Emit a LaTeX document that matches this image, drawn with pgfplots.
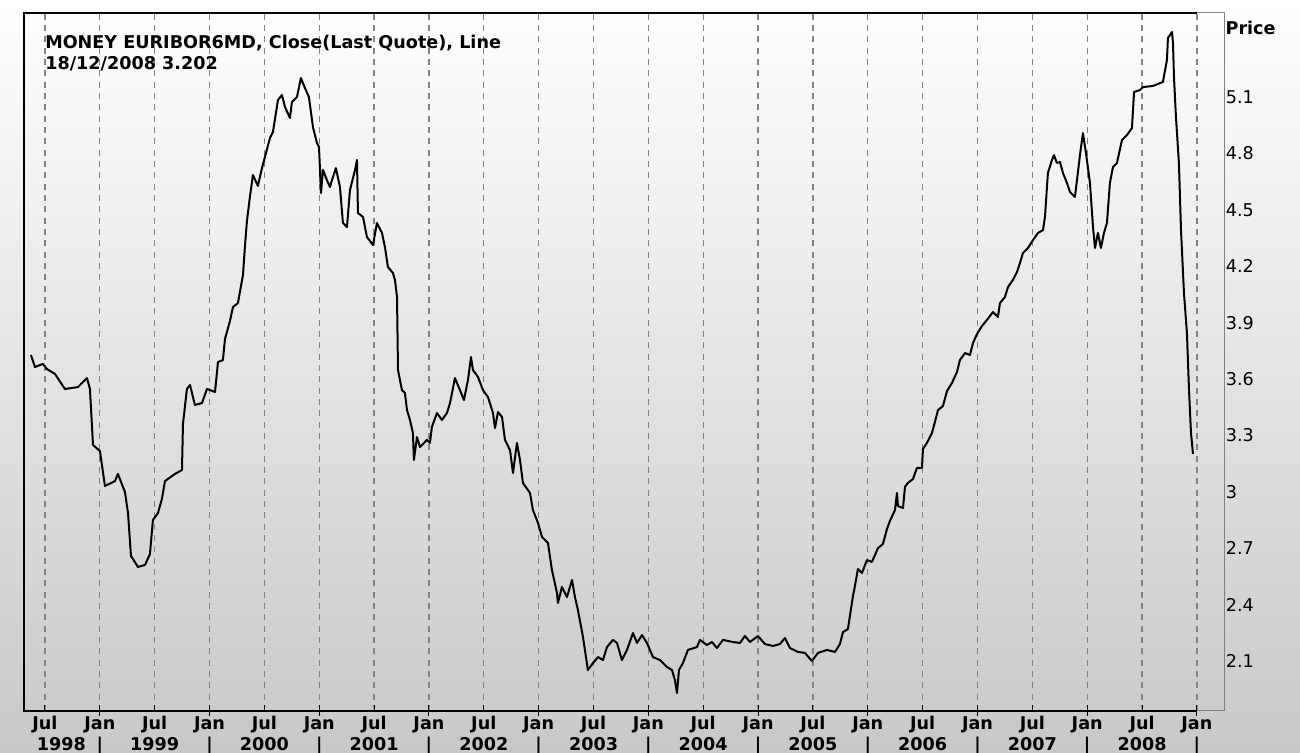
\documentclass[border=0pt]{standalone}
\usepackage{pgfplots}
\pgfplotsset{compat=1.18}
\usepackage{fontspec}
\setmainfont{DejaVu Sans}
\definecolor{bgbot}{RGB}{200,200,200}
\definecolor{gridc}{RGB}{130,130,130}
\definecolor{framegray}{RGB}{128,128,128}
\newcommand{\lblfont}{\fontsize{13.2}{15.75}\selectfont}
\pgfplotstableread{
x y
1998.372 3.728
1998.409 3.664
1998.482 3.680
1998.518 3.653
1998.591 3.627
1998.682 3.547
1998.801 3.557
1998.883 3.605
1998.910 3.547
1998.938 3.249
1999.001 3.217
1999.047 3.031
1999.138 3.057
1999.165 3.095
1999.229 2.999
1999.257 2.887
1999.284 2.659
1999.348 2.600
1999.412 2.611
1999.457 2.669
1999.484 2.850
1999.530 2.887
1999.566 2.962
1999.594 3.057
1999.685 3.095
1999.749 3.116
1999.758 3.361
1999.794 3.547
1999.822 3.568
1999.867 3.462
1999.931 3.472
1999.977 3.547
2000.050 3.531
2000.077 3.690
2000.122 3.701
2000.141 3.813
2000.186 3.908
2000.214 3.983
2000.259 4.004
2000.277 4.063
2000.305 4.153
2000.323 4.307
2000.341 4.440
2000.369 4.573
2000.396 4.685
2000.441 4.627
2000.478 4.722
2000.505 4.781
2000.551 4.882
2000.578 4.914
2000.624 5.084
2000.660 5.111
2000.688 5.047
2000.733 4.988
2000.751 5.073
2000.797 5.100
2000.833 5.201
2000.870 5.148
2000.906 5.100
2000.943 4.940
2000.979 4.855
2000.998 4.834
2001.016 4.589
2001.034 4.712
2001.070 4.658
2001.098 4.621
2001.116 4.658
2001.152 4.722
2001.189 4.621
2001.216 4.430
2001.253 4.408
2001.280 4.605
2001.326 4.712
2001.344 4.765
2001.353 4.483
2001.399 4.462
2001.435 4.355
2001.490 4.313
2001.526 4.430
2001.572 4.377
2001.599 4.302
2001.626 4.196
2001.672 4.164
2001.690 4.127
2001.709 4.036
2001.718 3.648
2001.754 3.541
2001.781 3.526
2001.800 3.435
2001.827 3.382
2001.854 3.313
2001.863 3.169
2001.891 3.291
2001.918 3.238
2001.982 3.276
2002.009 3.260
2002.027 3.345
2002.073 3.419
2002.119 3.382
2002.164 3.419
2002.192 3.472
2002.237 3.605
2002.283 3.541
2002.319 3.488
2002.356 3.595
2002.383 3.717
2002.401 3.648
2002.447 3.611
2002.492 3.541
2002.538 3.504
2002.584 3.419
2002.602 3.339
2002.629 3.424
2002.666 3.398
2002.693 3.276
2002.739 3.222
2002.766 3.100
2002.802 3.260
2002.830 3.169
2002.857 3.047
2002.921 2.994
2002.948 2.903
2002.994 2.834
2003.030 2.760
2003.085 2.728
2003.121 2.584
2003.167 2.462
2003.176 2.409
2003.212 2.494
2003.258 2.440
2003.304 2.531
2003.331 2.440
2003.358 2.371
2003.404 2.228
2003.449 2.052
2003.495 2.089
2003.541 2.121
2003.586 2.105
2003.623 2.174
2003.677 2.212
2003.714 2.196
2003.759 2.105
2003.805 2.159
2003.860 2.249
2003.896 2.196
2003.942 2.238
2003.987 2.196
2004.042 2.121
2004.106 2.105
2004.170 2.068
2004.215 2.052
2004.242 1.999
2004.261 1.930
2004.279 2.052
2004.315 2.089
2004.361 2.159
2004.443 2.174
2004.470 2.212
2004.534 2.185
2004.580 2.201
2004.625 2.169
2004.680 2.212
2004.771 2.201
2004.835 2.196
2004.880 2.233
2004.926 2.201
2004.999 2.233
2005.063 2.190
2005.136 2.180
2005.199 2.190
2005.245 2.222
2005.291 2.169
2005.364 2.148
2005.427 2.143
2005.491 2.100
2005.546 2.143
2005.628 2.159
2005.701 2.148
2005.746 2.190
2005.774 2.254
2005.819 2.270
2005.847 2.377
2005.865 2.446
2005.883 2.499
2005.910 2.589
2005.947 2.568
2005.992 2.637
2006.038 2.627
2006.093 2.701
2006.138 2.722
2006.175 2.802
2006.202 2.845
2006.248 2.903
2006.266 2.994
2006.275 2.924
2006.321 2.914
2006.339 3.026
2006.366 3.047
2006.412 3.068
2006.448 3.127
2006.494 3.127
2006.503 3.228
2006.539 3.260
2006.585 3.313
2006.612 3.371
2006.640 3.435
2006.685 3.456
2006.722 3.536
2006.767 3.579
2006.813 3.637
2006.840 3.701
2006.886 3.738
2006.931 3.728
2006.959 3.791
2006.995 3.839
2007.041 3.882
2007.086 3.914
2007.141 3.956
2007.186 3.930
2007.205 4.004
2007.250 4.036
2007.278 4.089
2007.323 4.127
2007.360 4.169
2007.387 4.217
2007.414 4.270
2007.460 4.297
2007.506 4.339
2007.551 4.377
2007.597 4.392
2007.615 4.462
2007.642 4.696
2007.679 4.765
2007.697 4.791
2007.724 4.749
2007.752 4.754
2007.779 4.696
2007.815 4.643
2007.843 4.595
2007.888 4.568
2007.907 4.658
2007.934 4.791
2007.961 4.908
2007.989 4.802
2008.025 4.643
2008.053 4.408
2008.071 4.297
2008.098 4.377
2008.125 4.297
2008.153 4.377
2008.180 4.430
2008.207 4.643
2008.235 4.728
2008.271 4.749
2008.317 4.871
2008.363 4.898
2008.408 4.935
2008.427 5.127
2008.481 5.137
2008.509 5.153
2008.600 5.159
2008.690 5.180
2008.727 5.297
2008.736 5.414
2008.773 5.446
2008.782 5.387
2008.791 5.206
2008.809 4.994
2008.836 4.749
2008.855 4.392
2008.882 4.057
2008.909 3.845
2008.928 3.541
2008.946 3.313
2008.964 3.202
}\euribor
\begin{document}
\begin{tikzpicture}
\fill[top color=white, bottom color=bgbot] (-18pt,-31.5pt) rectangle (957pt,533.25pt);
\path[use as bounding box] (-18pt,-31.5pt) rectangle (957pt,533.25pt);
\begin{axis}[
  at={(0,0)}, anchor=south west,
  scale only axis, width=900pt, height=523.5pt,
  xmin=1998.309, xmax=2009.247, ymin=1.834, ymax=5.547,
  clip=false,
  axis line style={draw=framegray, line width=0.75pt},
  xtick={1998.5,1999,1999.5,2000,2000.5,2001,2001.5,2002,2002.5,2003,2003.5,2004,2004.5,2005,2005.5,2006,2006.5,2007,2007.5,2008,2008.5,2009},
  xticklabels={Jul,Jan\\|,Jul\\1999,Jan\\|,Jul\\2000,Jan\\|,Jul\\2001,Jan\\|,Jul\\2002,Jan\\|,Jul\\2003,Jan\\|,Jul\\2004,Jan\\|,Jul\\2005,Jan\\|,Jul\\2006,Jan\\|,Jul\\2007,Jan\\|,Jul\\2008,Jan\\|},
  xticklabel style={font=\lblfont\bfseries, align=center, anchor=north, inner sep=0pt, yshift=-4pt},
  xtick pos=left,
  xtick style={black, line width=0.75pt},
  major tick length=4.5pt,
  tick align=inside,
  xmajorgrids,
  major grid style={gridc, line width=1pt, dash pattern=on 4.5pt off 4pt},
  extra x ticks={1999,2000,2001,2002,2003,2004,2005,2006,2007,2008,2009},
  extra x tick labels={},
  extra x tick style={grid=none, tick align=center, major tick length=7.5pt},
  ytick={2.1,2.4,2.7,3.0,3.3,3.6,3.9,4.2,4.5,4.8,5.1},
  yticklabels={2.1,2.4,2.7,3,3.3,3.6,3.9,4.2,4.5,4.8,5.1},
  ytick pos=right, yticklabel pos=right,
  ytick style={draw=none},
  yticklabel style={font=\lblfont, anchor=west, inner sep=0pt, xshift=1.2pt},
]
\addplot[black, line width=1.5pt, line join=round] table[x=x, y=y] {\euribor};
\draw[black, line width=1.5pt] (axis cs:2009,5.547) -- (axis cs:1998.309,5.547) -- (axis cs:1998.309,1.834) -- (axis cs:2009,1.834);
\node[anchor=base west, inner sep=0pt, font=\lblfont\bfseries, xshift=15.75pt, yshift=-26.6pt] at (rel axis cs:0,1) {MONEY EURIBOR6MD, Close(Last Quote), Line};
\node[anchor=base west, inner sep=0pt, font=\lblfont\bfseries, xshift=15.75pt, yshift=-42.75pt] at (rel axis cs:0,1) {18/12/2008 3.202};
\node[anchor=base west, inner sep=0pt, font=\lblfont\bfseries, xshift=1pt, yshift=-16.5pt] at (rel axis cs:1,1) {Price};
\node[anchor=base, inner sep=0pt, font=\lblfont\bfseries, yshift=-30pt] at (axis cs:1998.65,1.834) {1998};
\end{axis}
\end{tikzpicture}
\end{document}
